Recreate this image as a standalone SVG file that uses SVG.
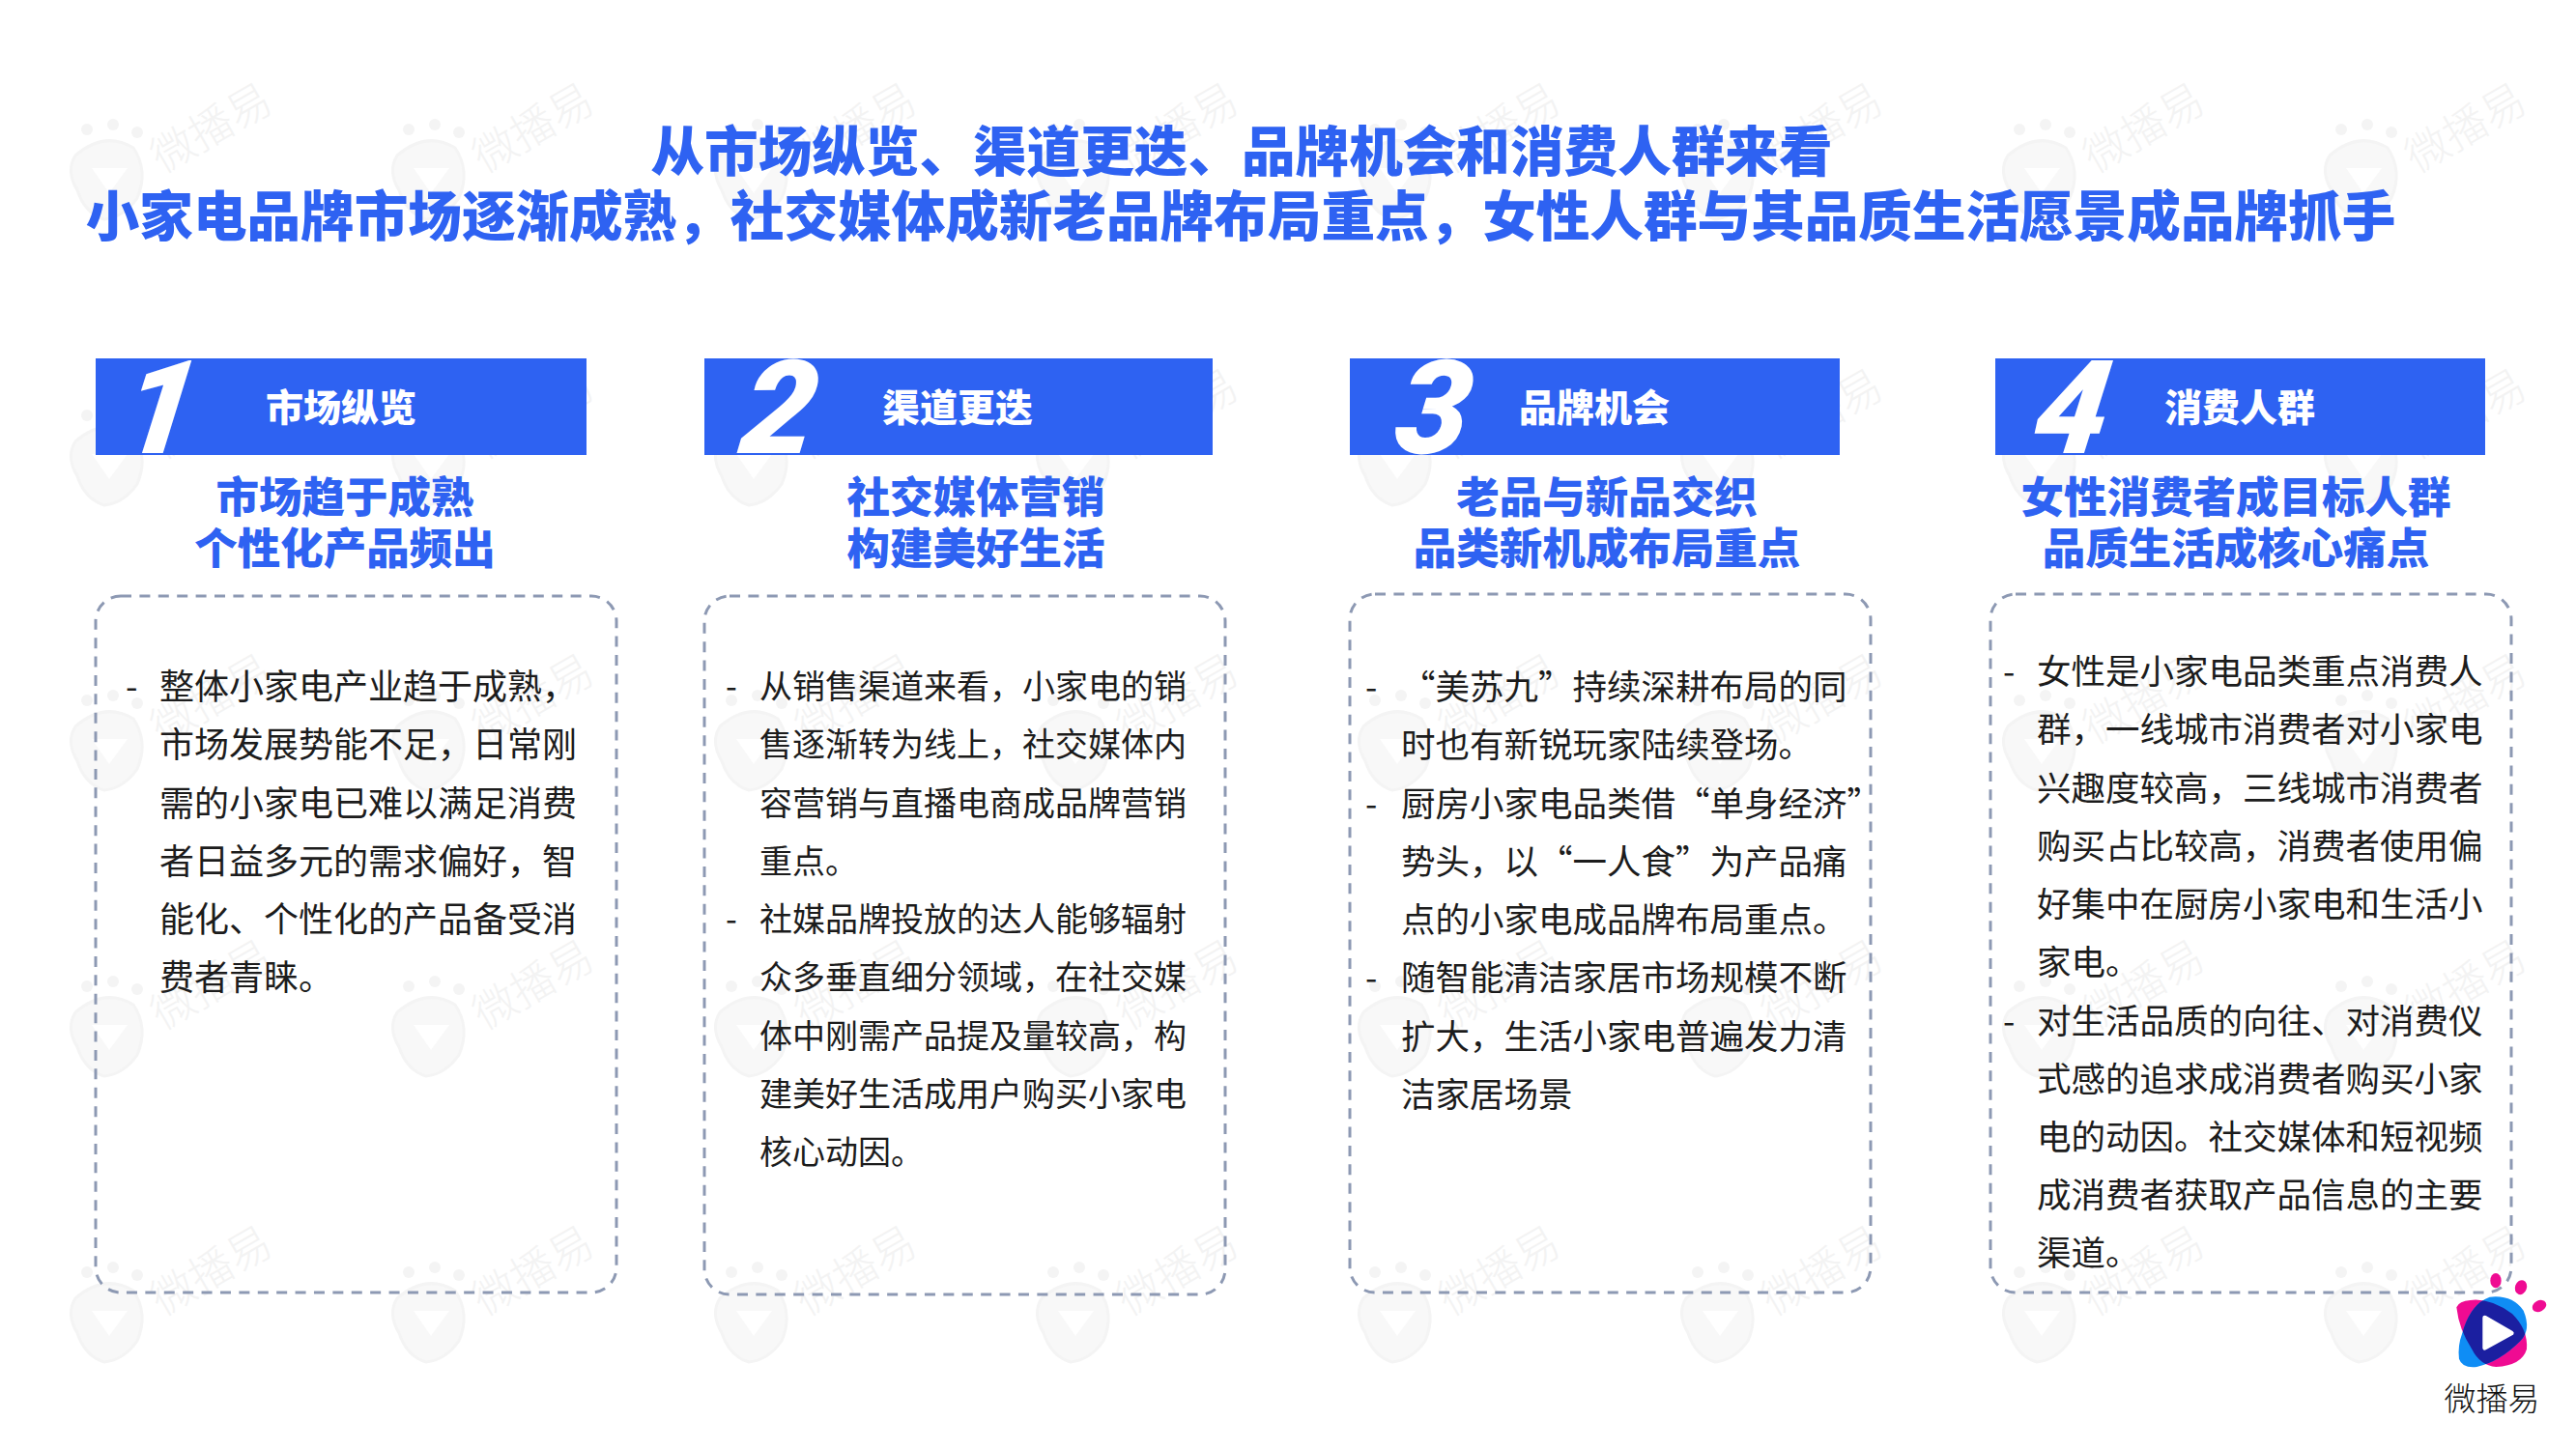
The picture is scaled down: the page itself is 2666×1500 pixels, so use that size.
<svg xmlns="http://www.w3.org/2000/svg" width="2666" height="1500" viewBox="0 0 2666 1500">
<style>
text{font-family:"Noto Sans CJK SC","Noto Sans",sans-serif}
.title{font-size:55.6px;font-weight:900;fill:#2e62f2;text-anchor:middle}
.hdr{fill:#2e62f2}
.hl{font-size:39px;font-weight:900;fill:#fff}
.num{font-family:Roboto,"Liberation Sans",sans-serif;font-size:135px;font-weight:900;font-style:italic;fill:#fff}
.sub{font-size:44.5px;font-weight:900;fill:#2e62f2;text-anchor:middle}
.box{fill:none;stroke:#8d99b3;stroke-width:3;stroke-dasharray:11 8.4}
.b{font-size:36px;font-weight:400;fill:#1c1c1c}
.b2{font-size:34px;font-weight:400;fill:#1c1c1c}
.b3{font-size:35.5px;font-weight:400;fill:#1c1c1c}
.wd{fill:#f4f4f4}
.wr{fill:#f8f8f8;stroke:#f4f4f4;stroke-width:3}
.wt{font-size:45px;font-weight:300;fill:#f3f3f3}
</style>
<defs>
<g id="wmark">
<circle cx="-20" cy="-51" r="6" class="wd"/><circle cx="7" cy="-56" r="6" class="wd"/><circle cx="32" cy="-48" r="6" class="wd"/>
<path class="wr" d="M-32-24Q-2-50 28-32Q44-8 32 20Q18 40-2 42Q-22 36-30 12Q-42-8-32-24Z"/>
<path fill="#fff" d="M-15-11H22L3 15Z"/>
<text class="wt" transform="translate(58 -5) rotate(-30)">微播易</text>
</g>
<clipPath id="pinkclip"><path d="M727 460Q735 440 770 438Q830 430 900 480Q950 530 945 590Q930 640 850 645Q800 640 775 590Q735 530 727 460Z"/></clipPath>
</defs>
<rect width="2666" height="1500" fill="#fff"/>
<g id="watermarks">
<use href="#wmark" x="110" y="185"/><use href="#wmark" x="443" y="185"/><use href="#wmark" x="777" y="185"/><use href="#wmark" x="1110" y="185"/><use href="#wmark" x="1443" y="185"/><use href="#wmark" x="1777" y="185"/><use href="#wmark" x="2110" y="185"/><use href="#wmark" x="2443" y="185"/>
<use href="#wmark" x="110" y="481"/><use href="#wmark" x="443" y="481"/><use href="#wmark" x="777" y="481"/><use href="#wmark" x="1110" y="481"/><use href="#wmark" x="1443" y="481"/><use href="#wmark" x="1777" y="481"/><use href="#wmark" x="2110" y="481"/><use href="#wmark" x="2443" y="481"/>
<use href="#wmark" x="110" y="776"/><use href="#wmark" x="443" y="776"/><use href="#wmark" x="777" y="776"/><use href="#wmark" x="1110" y="776"/><use href="#wmark" x="1443" y="776"/><use href="#wmark" x="1777" y="776"/><use href="#wmark" x="2110" y="776"/><use href="#wmark" x="2443" y="776"/>
<use href="#wmark" x="110" y="1072"/><use href="#wmark" x="443" y="1072"/><use href="#wmark" x="777" y="1072"/><use href="#wmark" x="1110" y="1072"/><use href="#wmark" x="1443" y="1072"/><use href="#wmark" x="1777" y="1072"/><use href="#wmark" x="2110" y="1072"/><use href="#wmark" x="2443" y="1072"/>
<use href="#wmark" x="110" y="1368"/><use href="#wmark" x="443" y="1368"/><use href="#wmark" x="777" y="1368"/><use href="#wmark" x="1110" y="1368"/><use href="#wmark" x="1443" y="1368"/><use href="#wmark" x="1777" y="1368"/><use href="#wmark" x="2110" y="1368"/><use href="#wmark" x="2443" y="1368"/>
</g>
<g id="title">
<text class="title" x="1285" y="177">从市场纵览、渠道更迭、品牌机会和消费人群来看</text>
<text class="title" x="1284" y="244">小家电品牌市场逐渐成熟，社交媒体成新老品牌布局重点，女性人群与其品质生活愿景成品牌抓手</text>
</g>
<g id="card1">
<rect class="hdr" x="99" y="371" width="508" height="100"/>
<text class="num" transform="translate(122 469) skewX(-8)">1</text>
<text class="hl" x="275" y="436">市场纵览</text>
<text class="sub" x="357" y="531">市场趋于成熟</text>
<text class="sub" x="357" y="584">个性化产品频出</text>
<rect class="box" x="99" y="617" width="539" height="721" rx="26"/>
<text class="b" x="130" y="724">-</text>
<text class="b" x="165" y="724">整体小家电产业趋于成熟，</text>
<text class="b" x="165" y="784">市场发展势能不足，日常刚</text>
<text class="b" x="165" y="845">需的小家电已难以满足消费</text>
<text class="b" x="165" y="905">者日益多元的需求偏好，智</text>
<text class="b" x="165" y="965">能化、个性化的产品备受消</text>
<text class="b" x="165" y="1025">费者青睐。</text>
</g>
<g id="card2">
<rect class="hdr" x="729" y="371" width="526" height="100"/>
<text class="num" transform="translate(763 469) skewX(-8)">2</text>
<text class="hl" x="913" y="436">渠道更迭</text>
<text class="sub" x="1010" y="531">社交媒体营销</text>
<text class="sub" x="1010" y="584">构建美好生活</text>
<rect class="box" x="729" y="617" width="539" height="723" rx="26"/>
<text class="b2" x="751" y="723">-</text>
<text class="b2" x="786" y="723">从销售渠道来看，小家电的销</text>
<text class="b2" x="786" y="783">售逐渐转为线上，社交媒体内</text>
<text class="b2" x="786" y="844">容营销与直播电商成品牌营销</text>
<text class="b2" x="786" y="904">重点。</text>
<text class="b2" x="751" y="964">-</text>
<text class="b2" x="786" y="964">社媒品牌投放的达人能够辐射</text>
<text class="b2" x="786" y="1024">众多垂直细分领域，在社交媒</text>
<text class="b2" x="786" y="1085">体中刚需产品提及量较高，构</text>
<text class="b2" x="786" y="1145">建美好生活成用户购买小家电</text>
<text class="b2" x="786" y="1205">核心动因。</text>
</g>
<g id="card3">
<rect class="hdr" x="1397" y="371" width="507" height="100"/>
<text class="num" transform="translate(1440 469) skewX(-8)">3</text>
<text class="hl" x="1572" y="436">品牌机会</text>
<text class="sub" x="1663" y="531">老品与新品交织</text>
<text class="sub" x="1663" y="584">品类新机成布局重点</text>
<rect class="box" x="1397" y="615" width="539" height="723" rx="26"/>
<text class="b3" x="1413" y="724">-</text>
<text class="b3" x="1450" y="724">“美苏九”持续深耕布局的同</text>
<text class="b3" x="1450" y="784">时也有新锐玩家陆续登场。</text>
<text class="b3" x="1413" y="845">-</text>
<text class="b3" x="1450" y="845">厨房小家电品类借“单身经济”</text>
<text class="b3" x="1450" y="905">势头，以“一人食”为产品痛</text>
<text class="b3" x="1450" y="965">点的小家电成品牌布局重点。</text>
<text class="b3" x="1413" y="1025">-</text>
<text class="b3" x="1450" y="1025">随智能清洁家居市场规模不断</text>
<text class="b3" x="1450" y="1086">扩大，生活小家电普遍发力清</text>
<text class="b3" x="1450" y="1146">洁家居场景</text>
</g>
<g id="card4">
<rect class="hdr" x="2065" y="371" width="507" height="100"/>
<text class="num" transform="translate(2101 469) skewX(-8)">4</text>
<text class="hl" x="2240" y="436">消费人群</text>
<text class="sub" x="2314" y="531">女性消费者成目标人群</text>
<text class="sub" x="2314" y="584">品质生活成核心痛点</text>
<rect class="box" x="2060" y="615" width="539" height="723" rx="26"/>
<text class="b3" x="2073" y="708">-</text>
<text class="b3" x="2108" y="708">女性是小家电品类重点消费人</text>
<text class="b3" x="2108" y="768">群，一线城市消费者对小家电</text>
<text class="b3" x="2108" y="829">兴趣度较高，三线城市消费者</text>
<text class="b3" x="2108" y="889">购买占比较高，消费者使用偏</text>
<text class="b3" x="2108" y="949">好集中在厨房小家电和生活小</text>
<text class="b3" x="2108" y="1009">家电。</text>
<text class="b3" x="2073" y="1070">-</text>
<text class="b3" x="2108" y="1070">对生活品质的向往、对消费仪</text>
<text class="b3" x="2108" y="1130">式感的追求成消费者购买小家</text>
<text class="b3" x="2108" y="1190">电的动因。社交媒体和短视频</text>
<text class="b3" x="2108" y="1250">成消费者获取产品信息的主要</text>
<text class="b3" x="2108" y="1310">渠道。</text>
</g>
<g id="logo">
<g transform="translate(2300 1200) scale(.3333)">
<path fill="#ef0b92" d="M727 460Q735 440 770 438Q830 430 900 480Q950 530 945 590Q930 640 850 645Q800 640 775 590Q735 530 727 460Z"/>
<path fill="#0f8df5" d="M735 620Q730 580 745 540Q770 450 830 428Q900 420 935 470Q960 530 925 565Q860 630 790 645Q745 650 735 620Z"/>
<path fill="#1b1fa0" clip-path="url(#pinkclip)" d="M735 620Q730 580 745 540Q770 450 830 428Q900 420 935 470Q960 530 925 565Q860 630 790 645Q745 650 735 620Z"/>
<path fill="#fff" stroke="#fff" stroke-width="14" stroke-linejoin="round" d="M815 492L898 540L815 586Z"/>
<ellipse fill="#ef0b92" cx="849" cy="377" rx="17" ry="23"/>
<ellipse fill="#ef0b92" cx="927" cy="398" rx="18" ry="23" transform="rotate(20 927 398)"/>
<ellipse fill="#ef0b92" cx="984" cy="456" rx="23" ry="17" transform="rotate(-28 984 456)"/>
</g>
<text x="2579" y="1460" font-size="33" font-weight="300" fill="#111" text-anchor="middle">微播易</text>
</g>
</svg>
